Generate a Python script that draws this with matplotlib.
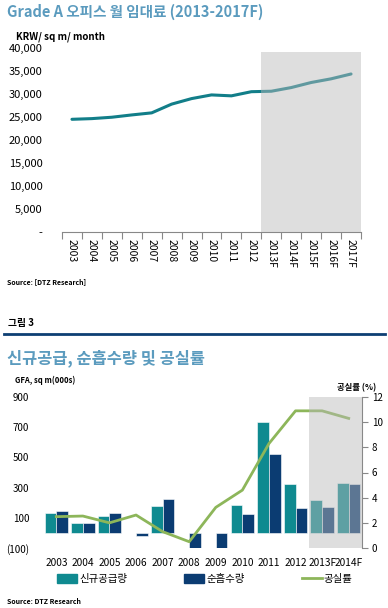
import matplotlib
matplotlib.use("Agg")
import matplotlib.pyplot as plt
import matplotlib.patches as mpatches
from matplotlib.lines import Line2D
import numpy as np

plt.rcParams['font.family'] = ['Noto Sans CJK KR', 'DejaVu Sans']

# --- data: Grade A office monthly rent ---
rent_years = ['2003', '2004', '2005', '2006', '2007', '2008', '2009', '2010',
              '2011', '2012', '2013F', '2014F', '2015F', '2016F', '2017F']
rent = [24500, 24650, 24950, 25450, 25900, 27800, 29000, 29800,
        29600, 30500, 30600, 31400, 32500, 33300, 34350]
rent_forecast_start = 10  # index of 2013F

# --- data: supply, absorption, vacancy ---
years = ['2003', '2004', '2005', '2006', '2007', '2008', '2009', '2010',
         '2011', '2012', '2013F', '2014F']
new_supply = [135, 68, 112, 0, 179, 0, 0, 185, 737, 322, 220, 329]
net_absorption = [146, 68, 130, -18, 225, -100, -100, 126, 523, 163, 174, 325]
vacancy = [2.49, 2.54, 2.0, 2.62, 1.3, 0.5, 3.23, 4.6, 8.3, 10.9, 10.9, 10.3]
forecast_start = 10  # index of 2013F

title_col = '#5B9BBE'
teal = '#0F8A90'
navy = '#0B3C72'
green = '#8DB65A'
shade_col = '#B9B9B9'

W, H = 388, 608
fig = plt.figure(figsize=(W / 100, H / 100), dpi=100)

def fx(px):
    return px / W

def fy(py):
    return 1 - py / H

# ---------------- top chart ----------------
fig.text(fx(7), fy(12), 'Grade A 오피스 월 임대료 (2013-2017F)', color=title_col,
         fontsize=10.5, fontweight='bold', va='center', ha='left')
fig.text(fx(16), fy(37), 'KRW/ sq m/ month', fontsize=7, fontweight='bold',
         va='center', ha='left')

ax1 = fig.add_axes([fx(62), fy(232), fx(361 - 62), (232 - 48) / H])
x1 = np.arange(len(rent_years))
ax1.plot(x1, rent, color='#127E89', lw=2.2, solid_capstyle='round', zorder=2)
ax1.axvspan(rent_forecast_start - 0.5, len(rent_years) - 0.5, ymax=0.98,
            color=shade_col, alpha=0.47, lw=0, zorder=3)
ax1.set_xlim(-0.5, len(rent_years) - 0.5)
ax1.set_ylim(0, 40000)
ax1.set_yticks(np.arange(0, 40001, 5000))
ax1.set_yticklabels(['-'] + [f'{v:,}' for v in range(5000, 40001, 5000)])
ax1.set_xticks(np.arange(-0.5, len(rent_years), 1.0))
ax1.set_xticklabels([])
ax1.set_xticks(x1, minor=True)
ax1.set_xticklabels(rent_years, minor=True, rotation=-90, fontsize=7.5)
ax1.tick_params(axis='x', which='major', length=5, color='#888888', direction='out')
ax1.tick_params(axis='x', which='minor', length=0, pad=5)
ax1.tick_params(axis='y', length=0, labelsize=8, pad=14)
for s in ['top', 'right', 'left']:
    ax1.spines[s].set_visible(False)
ax1.spines['bottom'].set_color('#888888')

fig.text(fx(7), fy(282), 'Source: [DTZ Research]', fontsize=5, fontweight='bold',
         va='center', ha='left')

# ---------------- separator ----------------
fig.text(fx(8), fy(323), '그림 3', fontsize=7, fontweight='bold', va='center', ha='left')
fig.add_artist(Line2D([fx(4), fx(385)], [fy(334), fy(334)], color='#0D3F73', lw=2))

# ---------------- bottom chart ----------------
fig.text(fx(7), fy(358), '신규공급, 순흡수량 및 공실률', color=title_col,
         fontsize=11.8, fontweight='bold', va='center', ha='left')
fig.text(fx(15), fy(380), 'GFA, sq m(000s)', fontsize=5.5, fontweight='bold',
         va='center', ha='left')
fig.text(fx(376), fy(388), '공실률 (%)', fontsize=6, fontweight='bold',
         va='center', ha='right')

ax2 = fig.add_axes([fx(43), fy(548), fx(362 - 43), (548 - 397) / H])
x2 = np.arange(len(years))
bw = 0.44
ax2.bar(x2 - bw / 2, new_supply, bw, color=teal, edgecolor='white', lw=0.4, zorder=2)
ax2.bar(x2 + bw / 2, net_absorption, bw, color=navy, edgecolor='white', lw=0.4, zorder=2)
ax2.set_xlim(-0.5, len(years) - 0.5)
ax2.set_ylim(-100, 900)
ax2.set_yticks([-100, 100, 300, 500, 700, 900])
ax2.set_yticklabels(['(100)', '100', '300', '500', '700', '900'])
ax2.set_xticks(x2)
ax2.set_xticklabels(years)
ax2.tick_params(axis='y', length=0, labelsize=7, pad=10)
ax2.tick_params(axis='x', length=0, labelsize=7.3, pad=7)
for s in ax2.spines.values():
    s.set_visible(False)

ax3 = ax2.twinx()
ax3.plot(x2, vacancy, color=green, lw=2, zorder=2)
ax3.set_ylim(0, 12)
ax3.set_yticks(range(0, 13, 2))
ax3.tick_params(axis='y', length=4, labelsize=7, pad=3, color='#888888')
for s in ['top', 'left', 'bottom']:
    ax3.spines[s].set_visible(False)
ax3.spines['right'].set_color('#888888')
ax3.axvspan(forecast_start - 0.5, len(years) - 0.5, color=shade_col, alpha=0.47,
            lw=0, zorder=3)

handles = [mpatches.Patch(color=teal), mpatches.Patch(color=navy),
           Line2D([0], [0], color=green, lw=2)]
fig.legend(handles, ['신규공급량', '순흡수량', '공실률'], loc='center',
           bbox_to_anchor=(fx(205), fy(579)), ncol=3, frameon=False, fontsize=7.5,
           handlelength=1.9, handleheight=0.9, handletextpad=0.2, columnspacing=5.5)

fig.text(fx(7), fy(602), 'Source: DTZ Research', fontsize=5, fontweight='bold',
         va='center', ha='left')

fig.savefig('out.png', dpi=100)
